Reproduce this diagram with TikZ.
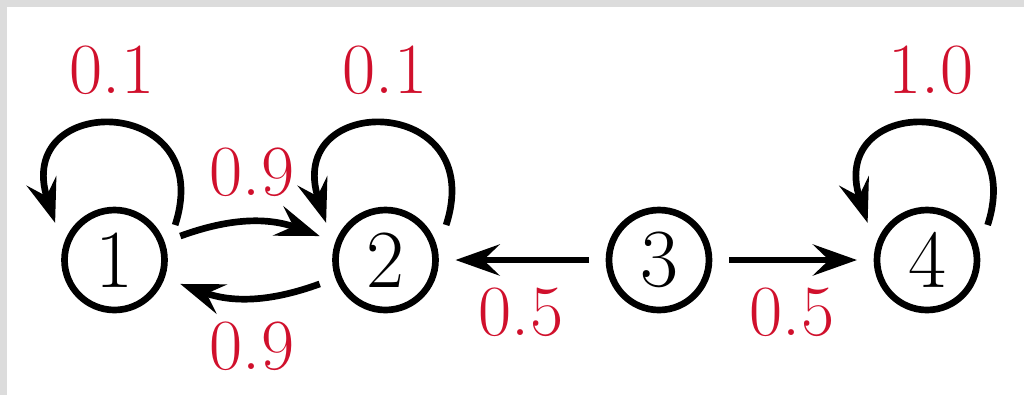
\documentclass[tikz,border=0pt]{standalone}
\usetikzlibrary{positioning,arrows.meta}
\definecolor{probred}{HTML}{D0102C}
\definecolor{framegray}{HTML}{DCDCDC}

\tikzset{
  state/.style={circle, draw, line width=1.9pt, minimum size=1cm, inner sep=0pt,
    outer sep=0.2cm, font=\fontsize{23.5}{26}\selectfont},
  prob/.style={text=probred, inner sep=0pt, font=\fontsize{20.5}{24}\selectfont},
  trans/.style={line width=1.9pt, -{Stealth[length=4.4mm,width=3.1mm,inset=1.6mm]}},
  selfloop/.style={trans, out=72, in=108, looseness=2.95}
}

\begin{document}
\begin{tikzpicture}[x=1cm,y=1cm]
\useasboundingbox (0,0) rectangle (10.24,-3.95);
\fill[framegray] (0,0) rectangle (10.24,-0.07);
\fill[framegray] (0,0) rectangle (0.07,-3.95);

% states
\node[state] (n1) at (1.145,-2.60) {1};
\node[state] (n2) at (3.855,-2.60) {2};
\node[state] (n3) at (6.59,-2.60) {3};
\node[state] (n4) at (9.27,-2.60) {4};

% probabilities
\node[prob] (p11) at (1.12,-0.70) {0.1};
\node[prob] (p22) at (3.85,-0.70) {0.1};
\node[prob] (p44) at (9.31,-0.70) {1.0};
\node[prob] (p12) at (2.52,-1.72) {0.9};
\node[prob] (p21) at (2.52,-3.46) {0.9};
\node[prob] (p32) at (5.21,-3.12) {0.5};
\node[prob] (p34) at (7.92,-3.12) {0.5};

% transitions
\draw[selfloop] (n1.30) to (n1.148);
\draw[selfloop] (n2.30) to (n2.148);
\draw[selfloop] (n4.30) to (n4.148);
\draw[trans] (n1) to[bend left=20] (n2);
\draw[trans] (n2) to[bend left=20] (n1);
\draw[trans] (n3) -- (n2);
\draw[trans] (n3) -- (n4);
\end{tikzpicture}
\end{document}
